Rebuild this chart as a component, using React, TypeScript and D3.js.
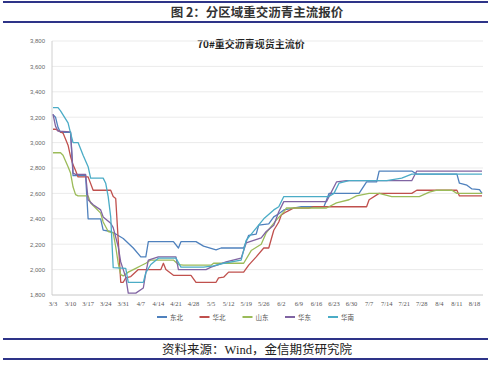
import React from "react";
import * as d3 from "d3";

const YEAR = 2020;
const xTickLabels = ["3/3","3/10","3/17","3/24","3/31","4/7","4/14","4/21","4/28","5/5","5/12","5/19","5/26","6/2","6/9","6/16","6/23","6/30","7/7","7/14","7/21","7/28","8/4","8/11","8/18"];
const yTicks = [1800, 2000, 2200, 2400, 2600, 2800, 3000, 3200, 3400, 3600, 3800];
const seriesNames = ["东北", "华北", "山东", "华东", "华南"];
const seriesColors = ["#4F81BD", "#C0504D", "#9BBB59", "#8064A2", "#4BACC6"];

const dongbei: [string, number][] = [
  ["3/3",3220],["3/4",3200],["3/5",3120],["3/6",3080],["3/10",3080],["3/11",2740],["3/16",2740],["3/17",2400],
  ["3/22",2400],["3/23",2310],["3/26",2300],["3/28",2280],["3/31",2245],["4/4",2170],["4/7",2100],["4/9",2100],
  ["4/10",2220],["4/20",2220],["4/22",2170],["4/23",2220],["4/29",2220],["5/2",2185],["5/7",2155],["5/9",2170],
  ["5/18",2170],["5/20",2270],["5/23",2280],["5/24",2350],["5/28",2360],["5/30",2415],["6/1",2440],["6/3",2470],
  ["6/10",2495],["6/19",2495],["6/21",2600],["7/3",2600],["7/6",2690],["7/10",2690],["7/11",2776],["7/24",2776],
  ["7/26",2752],["8/11",2752],["8/12",2680],["8/15",2665],["8/17",2635],["8/20",2630],["8/21",2600]
];
const huabei: [string, number][] = [
  ["3/3",3105],["3/4",3105],["3/7",3075],["3/9",2980],["3/10",2890],["3/11",2825],["3/12",2780],["3/13",2730],
  ["3/17",2730],["3/19",2625],["3/26",2625],["3/27",2575],["3/28",2560],["3/30",1900],["3/31",1900],["4/1",1935],
  ["4/3",1945],["4/6",2000],["4/15",2000],["4/16",2050],["4/17",2000],["4/20",1955],["4/27",1955],["4/29",1900],
  ["5/7",1900],["5/8",1935],["5/10",1940],["5/12",1980],["5/18",1980],["5/20",2035],["5/23",2100],["5/26",2170],
  ["5/28",2170],["5/30",2310],["6/1",2375],["6/2",2430],["6/4",2455],["6/7",2485],["6/13",2485],["6/15",2495],
  ["7/6",2495],["7/7",2550],["7/11",2600],["7/24",2600],["7/26",2625],["8/11",2625],["8/12",2580],["8/21",2580]
];
const shandong: [string, number][] = [
  ["3/3",2920],["3/6",2920],["3/7",2900],["3/9",2810],["3/10",2760],["3/11",2650],["3/12",2590],["3/13",2580],
  ["3/17",2580],["3/18",2525],["3/20",2485],["3/22",2445],["3/23",2375],["3/25",2300],["3/27",2290],["3/28",2180],
  ["3/29",2050],["3/30",1960],["3/31",1950],["4/2",1980],["4/5",2010],["4/7",2030],["4/9",2050],["4/11",2075],
  ["4/20",2075],["4/22",2040],["4/24",2035],["5/5",2035],["5/6",2050],["5/18",2050],["5/21",2150],["5/25",2200],
  ["5/27",2290],["5/31",2390],["6/3",2455],["6/4",2485],["6/20",2485],["6/24",2525],["6/29",2550],["7/2",2580],
  ["7/7",2600],["7/11",2600],["7/16",2575],["7/27",2575],["7/31",2610],["8/3",2625],["8/9",2625],["8/11",2600],["8/21",2600]
];
const huadong: [string, number][] = [
  ["3/3",3225],["3/4",3130],["3/5",3090],["3/10",3085],["3/11",2760],["3/12",2750],["3/16",2750],["3/17",2550],
  ["3/19",2510],["3/22",2470],["3/23",2415],["3/26",2365],["3/27",2330],["3/29",2180],["3/30",2060],["3/31",2000],
  ["4/1",1940],["4/2",1815],["4/5",1815],["4/8",1855],["4/9",1975],["4/10",2075],["4/14",2100],["4/21",2100],
  ["4/22",2000],["5/3",2000],["5/5",2020],["5/8",2040],["5/11",2060],["5/17",2090],["5/19",2210],["5/25",2250],
  ["5/27",2300],["5/30",2350],["6/1",2455],["6/3",2535],["6/20",2535],["6/24",2690],["6/28",2700],["7/24",2700],
  ["7/26",2776],["8/21",2776]
];
const huanan: [string, number][] = [
  ["3/3",3275],["3/5",3275],["3/6",3250],["3/9",3155],["3/10",3075],["3/11",3000],["3/13",3000],["3/15",2900],
  ["3/17",2810],["3/18",2720],["3/23",2720],["3/24",2680],["3/25",2575],["3/26",2415],["3/27",2015],["4/1",2010],
  ["4/2",1900],["4/8",1900],["4/9",1975],["4/11",2040],["4/14",2090],["4/21",2090],["4/23",2020],["5/2",2020],
  ["5/6",2030],["5/10",2050],["5/17",2075],["5/19",2230],["5/26",2400],["5/30",2470],["6/1",2495],["6/3",2575],
  ["6/21",2575],["6/23",2600],["6/25",2680],["6/29",2700],["7/14",2700],["7/20",2720],["7/24",2752],["8/21",2752]
];

const allSeries = [dongbei, huabei, shandong, huadong, huanan];

const parse = (s: string) => {
  const [m, d] = s.split("/").map(Number);
  return new Date(YEAR, m - 1, d);
};

export default function App() {
  const W = 499, H = 365;
  const left = 53, right = 482, top = 41, bottom = 295;
  const x = d3.scaleTime().domain([parse("3/3"), parse("8/21")]).range([left, right]);
  const y = d3.scaleLinear().domain([1800, 3800]).range([bottom, top]);
  const line = d3.line<[string, number]>().x(d => x(parse(d[0]))).y(d => y(d[1]));
  const fmt = d3.format(",");
  const navy = "#2E3488";
  const legendX = [157, 199.5, 242.5, 285, 328];

  return (
    <svg width={W} height={H} style={{ position: "absolute", left: 0, top: 0, background: "#fff" }}>
      <rect x={0} y={0} width={W} height={H} fill="#fff" />
      {/* header */}
      <line x1={3} x2={488} y1={2} y2={2} stroke={navy} strokeWidth={2} />
      <text x={257} y={17} textAnchor="middle" fontFamily="'Noto Sans CJK SC', sans-serif" fontWeight="bold" fontSize={12.5} fill="#333">图 2：分区域重交沥青主流报价</text>
      <line x1={3} x2={488} y1={22} y2={22} stroke={navy} strokeWidth={2} />

      {/* chart title */}
      <text x={251} y={48} textAnchor="middle" fontFamily="'Noto Sans CJK SC', sans-serif" fontWeight="bold" fontSize={10} fill="#222">70#重交沥青现货主流价</text>

      {/* grid */}
      {yTicks.map(t => (
        <g key={t}>
          {t !== 1800 && <line x1={left - 1} x2={right + 1} y1={y(t)} y2={y(t)} stroke="#EBEBEB" strokeWidth={1} />}
          <text x={45} y={y(t) + 2.3} textAnchor="end" fontFamily="'Liberation Sans', sans-serif" fontSize={6} fill="#666">{fmt(t)}</text>
        </g>
      ))}
      <line x1={left - 1} x2={left - 1} y1={top} y2={bottom} stroke="#D0D0D0" strokeWidth={1} />
      <line x1={left - 1} x2={right + 1} y1={bottom} y2={bottom} stroke="#C8C8C8" strokeWidth={1} />
      {xTickLabels.map(l => (
        <text key={l} x={x(parse(l))} y={306} textAnchor="middle" fontFamily="'Liberation Serif', serif" fontSize={6.5} fill="#555">{l}</text>
      ))}

      {/* series */}
      {allSeries.map((s, i) => (
        <path key={i} d={line(s) || ""} fill="none" stroke={seriesColors[i]} strokeWidth={1.3} strokeLinejoin="round" />
      ))}

      {/* legend */}
      {seriesNames.map((n, i) => (
        <g key={n}>
          <line x1={legendX[i]} x2={legendX[i] + 10} y1={317} y2={317} stroke={seriesColors[i]} strokeWidth={2} />
          <text x={legendX[i] + 13} y={319.5} fontFamily="'Noto Sans CJK SC', sans-serif" fontSize={6.5} fill="#555">{n}</text>
        </g>
      ))}

      {/* footer */}
      <line x1={3} x2={488} y1={339} y2={339} stroke={navy} strokeWidth={2} />
      <text x={257} y={354} textAnchor="middle" fontFamily="'Liberation Serif', 'Noto Sans CJK SC', serif" fontSize={12.5} fill="#222">资料来源：Wind，金信期货研究院</text>
      <line x1={3} x2={488} y1={359} y2={359} stroke={navy} strokeWidth={2} />
    </svg>
  );
}
